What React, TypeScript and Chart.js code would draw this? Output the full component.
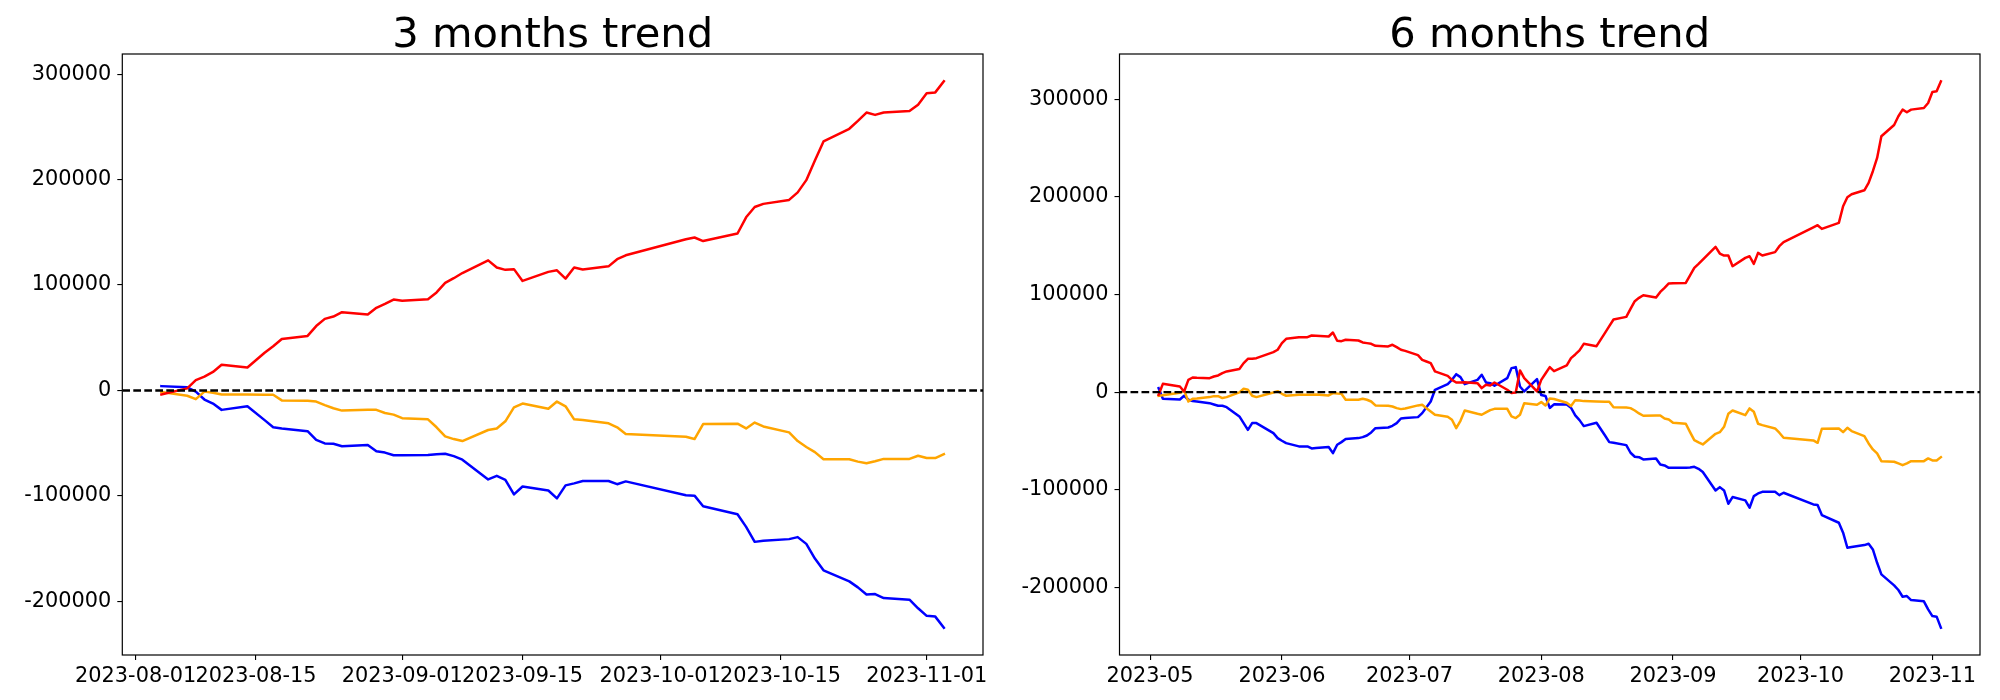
import { useEffect, useRef } from "react";
import { Chart, registerables } from "chart.js";

Chart.register(...registerables);

const FONT = '"DejaVu Sans", "Liberation Sans", sans-serif';

const LEFT_TITLE = "3 months trend";
const RIGHT_TITLE = "6 months trend";

const Y_TICKS = [-200000, -100000, 0, 100000, 200000, 300000];
const LEFT_X_TICKS = ["2023-08-01", "2023-08-15", "2023-09-01", "2023-09-15", "2023-10-01", "2023-10-15", "2023-11-01"];
const RIGHT_X_TICKS = ["2023-05-01", "2023-06-01", "2023-07-01", "2023-08-01", "2023-09-01", "2023-10-01", "2023-11-01"];

// ---------- 3 months ----------
const LEFT_DATES = [
  "2023-08-04", "2023-08-07", "2023-08-08", "2023-08-09", "2023-08-10", "2023-08-11", "2023-08-14", "2023-08-16", "2023-08-17", "2023-08-18",
  "2023-08-21", "2023-08-22", "2023-08-23", "2023-08-24", "2023-08-25", "2023-08-28", "2023-08-29", "2023-08-30", "2023-08-31", "2023-09-01",
  "2023-09-04", "2023-09-05", "2023-09-06", "2023-09-07", "2023-09-08", "2023-09-11", "2023-09-12", "2023-09-13", "2023-09-14", "2023-09-15",
  "2023-09-18", "2023-09-19", "2023-09-20", "2023-09-21", "2023-09-22", "2023-09-25", "2023-09-26", "2023-09-27", "2023-10-04", "2023-10-05",
  "2023-10-06", "2023-10-10", "2023-10-11", "2023-10-12", "2023-10-13", "2023-10-16", "2023-10-17", "2023-10-18", "2023-10-19", "2023-10-20",
  "2023-10-23", "2023-10-24", "2023-10-25", "2023-10-26", "2023-10-27", "2023-10-30", "2023-10-31", "2023-11-01", "2023-11-02", "2023-11-03",
];
const LEFT_RED = [
  -3750, 2000, 9750, 13100, 17600, 24400, 21800, 35800, 42000, 48750,
  51750, 61100, 67900, 70100, 74250, 72000, 78400, 82100, 86250, 85100,
  86600, 93000, 102000, 106500, 111400, 123400, 116600, 114400, 115100, 103900,
  112500, 114000, 106100, 116600, 114750, 117750, 124500, 128250, 143400, 145100,
  141750, 148900, 164250, 174000, 177000, 180750, 187900, 199500, 218250, 236250,
  248250, 255750, 263600, 261400, 263600, 265100, 271100, 282000, 282750, 293250,
];
const LEFT_ORANGE = [
  -1500, -5000, -8250, -1100, -2250, -3750, -3750, -4100, -4100, -9400,
  -9750, -10500, -13900, -16900, -19100, -18400, -18400, -21400, -22900, -26250,
  -27400, -34900, -43500, -46100, -48000, -37500, -36000, -29250, -16100, -12400,
  -17400, -10500, -15000, -27400, -28100, -31100, -34900, -41250, -43900, -46100,
  -31900, -31500, -36000, -30400, -34100, -39750, -48000, -53600, -58500, -65250,
  -65250, -67500, -69000, -67100, -64900, -64900, -61900, -64100, -64100, -60400,
];
const LEFT_BLUE = [
  4100, 3000, -1100, -8600, -12400, -18400, -15000, -28100, -34900, -36000,
  -38600, -46900, -50250, -50600, -52900, -51750, -57750, -58900, -61500, -61500,
  -61100, -60400, -60000, -62250, -65600, -84400, -81000, -84750, -98600, -91100,
  -94900, -102400, -90000, -88100, -85900, -85900, -88900, -86250, -99400, -99750,
  -109900, -117400, -129400, -143600, -142500, -141000, -139100, -145500, -159400, -170600,
  -181100, -186750, -193500, -193100, -196900, -198400, -206600, -213750, -214500, -225000,
];

// ---------- 6 months ----------
const RIGHT_DATES = [
  "2023-05-03", "2023-05-04", "2023-05-08", "2023-05-09", "2023-05-10", "2023-05-11", "2023-05-12", "2023-05-15", "2023-05-16", "2023-05-17",
  "2023-05-18", "2023-05-19", "2023-05-22", "2023-05-23", "2023-05-24", "2023-05-25", "2023-05-26", "2023-05-30", "2023-05-31",
  "2023-06-01", "2023-06-02", "2023-06-05", "2023-06-07", "2023-06-08", "2023-06-09", "2023-06-12", "2023-06-13", "2023-06-14", "2023-06-15",
  "2023-06-16", "2023-06-19", "2023-06-20", "2023-06-21", "2023-06-22", "2023-06-23", "2023-06-26", "2023-06-27", "2023-06-28", "2023-06-29", "2023-06-30",
  "2023-07-03", "2023-07-04", "2023-07-05", "2023-07-06", "2023-07-07", "2023-07-10", "2023-07-11", "2023-07-12", "2023-07-13", "2023-07-14",
  "2023-07-17", "2023-07-18", "2023-07-19", "2023-07-20", "2023-07-21", "2023-07-24", "2023-07-25", "2023-07-26", "2023-07-27", "2023-07-28", "2023-07-31",
  "2023-08-01", "2023-08-02", "2023-08-03", "2023-08-04", "2023-08-07", "2023-08-08", "2023-08-09", "2023-08-10", "2023-08-11", "2023-08-14",
  "2023-08-16", "2023-08-17", "2023-08-18", "2023-08-21", "2023-08-22", "2023-08-23", "2023-08-24", "2023-08-25", "2023-08-28", "2023-08-29", "2023-08-30", "2023-08-31",
  "2023-09-01", "2023-09-04", "2023-09-05", "2023-09-06", "2023-09-07", "2023-09-08", "2023-09-11", "2023-09-12", "2023-09-13", "2023-09-14",
  "2023-09-15", "2023-09-18", "2023-09-19", "2023-09-20", "2023-09-21", "2023-09-22", "2023-09-25", "2023-09-26", "2023-09-27",
  "2023-10-04", "2023-10-05", "2023-10-06", "2023-10-10", "2023-10-11", "2023-10-12", "2023-10-13", "2023-10-16", "2023-10-17", "2023-10-18",
  "2023-10-19", "2023-10-20", "2023-10-23", "2023-10-24", "2023-10-25", "2023-10-26", "2023-10-27", "2023-10-30", "2023-10-31",
  "2023-11-01", "2023-11-02", "2023-11-03",
];
const RIGHT_RED = [
  -2700, 8500, 5800, 700, 12600, 15000, 14700, 14300, 16000, 17100,
  19500, 21200, 23600, 29700, 34100, 34300, 34800, 41000, 43400,
  50200, 54600, 56300, 56300, 58000, 57700, 57000, 61100, 52600, 52200,
  53600, 52900, 50900, 50200, 49500, 47400, 46800, 48500, 46100, 43400, 42300,
  37900, 33100, 31400, 29700, 21200, 16700, 12600, 9900, 9900, 10200,
  9200, 4100, 7500, 6800, 9900, 2400, -1000, -300, 22200, 14300, 700,
  12600, 19100, 25600, 21500, 27300, 34800, 38600, 42700, 49500, 47100,
  60700, 67600, 74400, 77100, 85300, 93200, 96600, 99300, 96900, 102700, 106800, 111300,
  111600, 111900, 119500, 127300, 131400, 135800, 148800, 142000, 139900, 139900,
  129000, 137500, 139200, 131400, 142700, 139900, 143400, 149500, 153600,
  168800, 171000, 167200, 173400, 190400, 199700, 202700, 206800, 214300, 226300,
  239900, 262100, 273700, 282600, 289400, 286700, 289400, 291100, 296200,
  307500, 308200, 318400,
];
const RIGHT_ORANGE = [
  -3700, -3100, -700, 1700, -9600, -6800, -6500, -5100, -4100, -4100,
  -6100, -5100, -300, 3400, 2400, -3700, -5100, -300, 1000,
  -1700, -3700, -2700, -2700, -2700, -2400, -3400, -1000, -1400, -1700,
  -7800, -7800, -6800, -7800, -9600, -13600, -14000, -14700, -16400, -17400, -16700,
  -13600, -13000, -16400, -19800, -23200, -25300, -28300, -36900, -29400, -18800,
  -22200, -23200, -20800, -18400, -17100, -17100, -24900, -26600, -23200, -11300, -13000,
  -10200, -13700, -6500, -7000, -10900, -14300, -8200, -8500, -9200, -9600,
  -9900, -9900, -15400, -15700, -16400, -18800, -21800, -24200, -23900, -23900, -27000, -28000,
  -31400, -32400, -41000, -49200, -51500, -53600, -42700, -41000, -35500, -22200,
  -18800, -23600, -16700, -20100, -32400, -33800, -37200, -41600, -46800,
  -49500, -51900, -37500, -37200, -41000, -36500, -39900, -45100, -52600, -58700,
  -62800, -70700, -71300, -73000, -74800, -73000, -70700, -70700, -67900,
  -70000, -70000, -66600,
];
const RIGHT_BLUE = [
  4000, -6800, -7500, -3700, -7800, -9200, -9600, -11300, -12600, -14000,
  -14000, -15400, -24900, -31700, -38600, -31700, -31700, -42000, -47100,
  -49800, -52200, -55600, -55600, -57700, -57300, -56300, -62500, -53900, -51200,
  -48100, -47100, -46100, -44400, -41300, -36900, -36200, -34500, -31700, -27000, -26600,
  -25600, -21500, -15400, -9600, 2400, 8200, 12600, 18400, 15400, 8200,
  12600, 17800, 9900, 9200, 6500, 14300, 24600, 25600, 5800, 700, 13300,
  -3000, -4000, -16200, -12500, -12600, -16000, -23900, -28700, -34800, -31400,
  -44400, -51200, -51900, -54300, -62100, -66200, -66600, -68900, -67900, -74100, -75100, -77500,
  -77500, -77500, -77100, -76500, -78500, -81900, -100700, -97300, -100700, -114300,
  -107500, -110900, -118400, -106500, -103800, -102100, -102100, -105500, -103100,
  -115000, -115700, -125900, -133800, -144000, -159400, -158700, -156700, -155300, -161100,
  -174800, -186700, -198000, -202700, -209600, -208900, -213000, -214300, -222500,
  -229400, -230000, -241300,
];

const SERIES_COLORS = ["red", "orange", "blue"];

const DAY_MS = 86400000;
function toDay(s: string): number {
  const [y, m, d] = s.split("-").map(Number);
  return Date.UTC(y, m - 1, d) / DAY_MS;
}
function fmtDay(v: number, monthOnly: boolean): string {
  const dt = new Date(Math.round(v) * DAY_MS);
  const y = dt.getUTCFullYear();
  const m = String(dt.getUTCMonth() + 1).padStart(2, "0");
  const d = String(dt.getUTCDate()).padStart(2, "0");
  return monthOnly ? `${y}-${m}` : `${y}-${m}-${d}`;
}

type Area = { left: number; right: number; top: number; xAxisHeight: number };

function framePlugin(title: string) {
  return {
    id: "frame",
    afterDatasetsDraw(chart: any) {
      const { ctx, chartArea: a, scales } = chart;
      const y0 = scales.y.getPixelForValue(0);
      ctx.save();
      ctx.beginPath();
      ctx.rect(a.left, a.top, a.right - a.left, a.bottom - a.top);
      ctx.clip();
      ctx.beginPath();
      ctx.setLineDash([7.7, 3.3]);
      ctx.lineWidth = 2.3;
      ctx.strokeStyle = "#000";
      ctx.moveTo(a.left, y0);
      ctx.lineTo(a.right, y0);
      ctx.stroke();
      ctx.restore();
    },
    afterDraw(chart: any) {
      const { ctx, chartArea: a } = chart;
      ctx.save();
      ctx.lineWidth = 1.2;
      ctx.strokeStyle = "#000";
      ctx.setLineDash([]);
      ctx.strokeRect(a.left, a.top, a.right - a.left, a.bottom - a.top);
      ctx.fillStyle = "#000";
      ctx.font = `41.67px ${FONT}`;
      ctx.textAlign = "center";
      ctx.textBaseline = "alphabetic";
      ctx.fillText(title, (a.left + a.right) / 2, 46.7);
      ctx.restore();
    },
  };
}

function makeConfig(
  title: string,
  dates: string[],
  series: number[][],
  xTicks: string[],
  monthOnly: boolean,
  area: Area
): any {
  const xs = dates.map(toDay);
  const all = series.flat();
  const ymin = Math.min(...all);
  const ymax = Math.max(...all);
  const yr = ymax - ymin;
  const xr = xs[xs.length - 1] - xs[0];
  const tickFont = { family: FONT, size: 20.83 };
  const grid = {
    drawOnChartArea: false,
    drawTicks: true,
    tickLength: 5,
    color: "#000",
    lineWidth: 1.11,
  };
  return {
    type: "line",
    data: {
      datasets: series.map((vals, si) => ({
        data: vals.map((v, i) => ({ x: xs[i], y: v })),
        borderColor: SERIES_COLORS[si],
        backgroundColor: SERIES_COLORS[si],
        borderWidth: 2.5,
        borderJoinStyle: "round",
        borderCapStyle: "square",
        pointRadius: 0,
        fill: false,
        tension: 0,
      })),
    },
    options: {
      animation: false,
      responsive: false,
      maintainAspectRatio: false,
      devicePixelRatio: 1,
      layout: { padding: { left: 0, right: 1000 - area.right, top: area.top, bottom: 0 } },
      plugins: {
        legend: { display: false },
        tooltip: { enabled: false },
        title: { display: false },
      },
      scales: {
        x: {
          type: "linear",
          min: xs[0] - 0.05 * xr,
          max: xs[xs.length - 1] + 0.05 * xr,
          afterBuildTicks: (s: any) => {
            s.ticks = xTicks.map((t) => ({ value: toDay(t) }));
          },
          afterFit: (s: any) => {
            s.height = area.xAxisHeight;
          },
          ticks: {
            autoSkip: false,
            maxRotation: 0,
            minRotation: 0,
            color: "#000",
            font: tickFont,
            padding: 4,
            callback: (v: any) => fmtDay(Number(v), monthOnly),
          },
          grid,
          border: { display: false },
        },
        y: {
          type: "linear",
          min: ymin - 0.05 * yr,
          max: ymax + 0.05 * yr,
          afterBuildTicks: (s: any) => {
            s.ticks = Y_TICKS.map((v) => ({ value: v }));
          },
          afterFit: (s: any) => {
            s.width = area.left;
          },
          ticks: {
            color: "#000",
            font: tickFont,
            padding: 6,
            callback: (v: any) => String(v),
          },
          grid,
          border: { display: false },
        },
      },
    },
    plugins: [framePlugin(title)],
  };
}

function TrendChart(props: {
  title: string;
  dates: string[];
  series: number[][];
  xTicks: string[];
  monthOnly: boolean;
  area: Area;
  left: number;
}) {
  const ref = useRef<HTMLCanvasElement | null>(null);
  useEffect(() => {
    if (!ref.current) return;
    const chart = new Chart(
      ref.current,
      makeConfig(props.title, props.dates, props.series, props.xTicks, props.monthOnly, props.area)
    );
    return () => chart.destroy();
  }, []);
  return (
    <canvas
      ref={ref}
      width={1000}
      height={700}
      style={{ position: "absolute", left: props.left, top: 0, width: 1000, height: 700 }}
    />
  );
}

export default function App() {
  return (
    <div
      style={{
        position: "absolute",
        left: 0,
        top: 0,
        width: 2000,
        height: 700,
        background: "#fff",
        overflow: "hidden",
      }}
    >
      <TrendChart
        title={LEFT_TITLE}
        dates={LEFT_DATES}
        series={[LEFT_RED, LEFT_ORANGE, LEFT_BLUE]}
        xTicks={LEFT_X_TICKS}
        monthOnly={false}
        area={{ left: 122.3, right: 983, top: 54, xAxisHeight: 45 }}
        left={0}
      />
      <TrendChart
        title={RIGHT_TITLE}
        dates={RIGHT_DATES}
        series={[RIGHT_RED, RIGHT_ORANGE, RIGHT_BLUE]}
        xTicks={RIGHT_X_TICKS}
        monthOnly={true}
        area={{ left: 119.5, right: 980, top: 54, xAxisHeight: 45 }}
        left={1000}
      />
    </div>
  );
}
